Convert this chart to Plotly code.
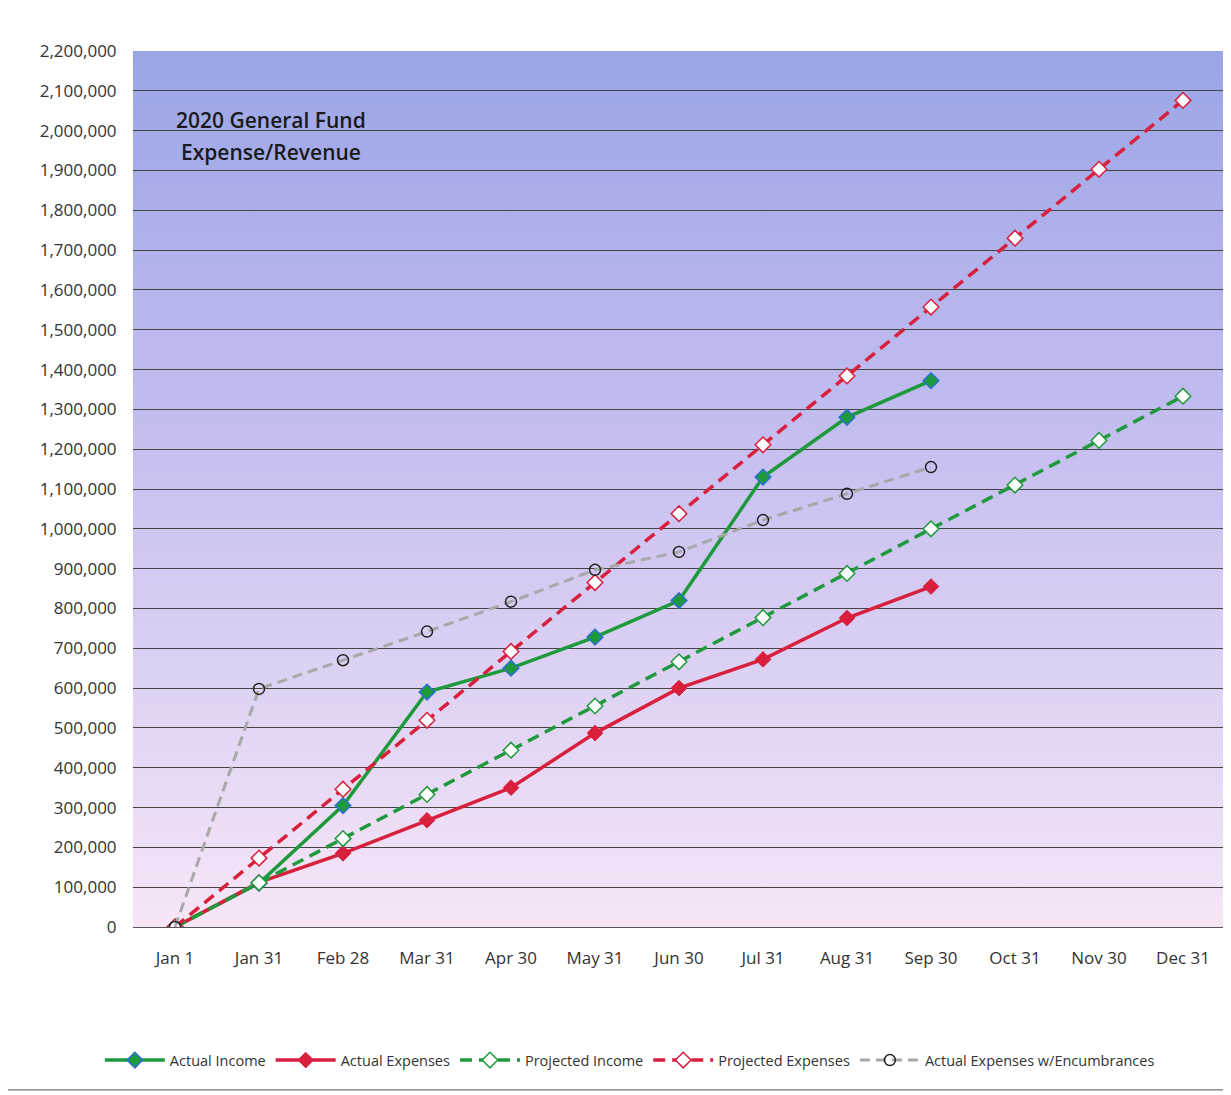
import base64
import plotly.graph_objects as go

categories = ["Jan 1", "Jan 31", "Feb 28", "Mar 31", "Apr 30", "May 31", "Jun 30",
              "Jul 31", "Aug 31", "Sep 30", "Oct 31", "Nov 30", "Dec 31"]

actual_income = [0, 110000, 305000, 590000, 650000, 728000, 820000, 1130000, 1280000, 1372000]
actual_expenses = [0, 112000, 185000, 268000, 350000, 487000, 600000, 672000, 776000, 855000]
projected_income = [0, 111000, 222000, 333000, 444000, 555000, 666000, 777000, 888000,
                    1000000, 1110000, 1222000, 1333000]
projected_expenses = [0, 173000, 346000, 519000, 692000, 865000, 1038000, 1211000, 1384000,
                      1557000, 1730000, 1903000, 2076000]
actual_exp_encumb = [0, 598000, 670000, 742000, 817000, 897000, 942000, 1022000, 1088000, 1155000]

y_ticks = list(range(0, 2200001, 100000))
y_tick_labels = [f"{v:,}" for v in y_ticks]

GREEN = "#1e9a3c"
RED = "#d81f3c"
GRAY = "#a8a8a8"

svg = """<svg xmlns='http://www.w3.org/2000/svg' width='100' height='100' preserveAspectRatio='none'>
<defs><linearGradient id='g' x1='0' y1='0' x2='0' y2='1'>
<stop offset='0' stop-color='#9aa5e6'/><stop offset='0.45' stop-color='#c6bff0'/>
<stop offset='1' stop-color='#f7e6f7'/></linearGradient></defs>
<rect width='100' height='100' fill='url(#g)'/></svg>"""
bg_src = "data:image/svg+xml;base64," + base64.b64encode(svg.encode()).decode()

fig = go.Figure()

fig.add_trace(go.Scatter(
    x=categories[:len(actual_income)], y=actual_income, name="Actual Income",
    mode="lines+markers", line=dict(color=GREEN, width=3.5),
    marker=dict(symbol="diamond", size=12, color=GREEN, line=dict(color="#2a6fd0", width=1.5))))
fig.add_trace(go.Scatter(
    x=categories[:len(actual_expenses)], y=actual_expenses, name="Actual Expenses",
    mode="lines+markers", line=dict(color=RED, width=3.5),
    marker=dict(symbol="diamond", size=12, color=RED, line=dict(color=RED, width=1))))
fig.add_trace(go.Scatter(
    x=categories, y=projected_income, name="Projected Income",
    mode="lines+markers", line=dict(color=GREEN, width=3.5, dash="12px,7px"),
    marker=dict(symbol="diamond", size=12, color="white", line=dict(color=GREEN, width=1.5))))
fig.add_trace(go.Scatter(
    x=categories, y=projected_expenses, name="Projected Expenses",
    mode="lines+markers", line=dict(color=RED, width=3.5, dash="12px,7px"),
    marker=dict(symbol="diamond", size=12, color="white", line=dict(color=RED, width=1.5))))
fig.add_trace(go.Scatter(
    x=categories[:len(actual_exp_encumb)], y=actual_exp_encumb, name="Actual Expenses w/Encumbrances",
    mode="lines+markers", line=dict(color=GRAY, width=3, dash="10px,6px"),
    marker=dict(symbol="circle-open", size=11, color="#222222", line=dict(width=1.5))))

fig.update_layout(
    width=1223, height=1087,
    margin=dict(l=125, r=6, t=43, b=168, autoexpand=False),
    paper_bgcolor="white",
    plot_bgcolor="rgba(0,0,0,0)",
    font=dict(family="Open Sans, Liberation Sans, sans-serif", color="#333333"),
    images=[dict(source=bg_src, xref="paper", yref="paper", x=0, y=1, sizex=1, sizey=1,
                 sizing="stretch", layer="below")],
    showlegend=True,
    legend=dict(orientation="h", x=0.455, xanchor="center", y=-0.152, yanchor="middle",
                font=dict(size=14.5, color="#333333"), bgcolor="rgba(0,0,0,0)",
                itemwidth=60),
    annotations=[
        dict(text="2020 General Fund", xref="paper", yref="paper",
             x=0.126, y=0.921, xanchor="center", yanchor="middle", showarrow=False,
             font=dict(size=21, color="#1a1a1a", family="Open Sans, sans-serif", weight=600)),
        dict(text="Expense/Revenue", xref="paper", yref="paper",
             x=0.126, y=0.885, xanchor="center", yanchor="middle", showarrow=False,
             font=dict(size=21, color="#1a1a1a", family="Open Sans, sans-serif", weight=600)),
    ],
    shapes=[dict(type="rect", xref="paper", yref="paper", x0=-0.2, x1=1.0027, y0=-0.186, y1=1.2,
                 line=dict(color="#777777", width=1.2), fillcolor="rgba(0,0,0,0)")],
)

fig.update_xaxes(
    type="category", categoryorder="array", categoryarray=categories,
    range=[-0.5, 12.5], showgrid=False, zeroline=False,
    ticks="outside", ticklen=16, tickcolor="rgba(0,0,0,0)",
    tickfont=dict(size=17, color="#333333"),
    showline=True, linecolor="#555555", linewidth=1, mirror=False)
fig.update_yaxes(
    range=[0, 2200000], tickvals=y_ticks, ticktext=y_tick_labels,
    showgrid=True, gridcolor="#444444", gridwidth=1.3, zeroline=False,
    tickfont=dict(size=17, color="#333333"), ticks="outside", ticklen=12,
    tickcolor="rgba(0,0,0,0)", showline=False)

fig.write_html("out.html")
